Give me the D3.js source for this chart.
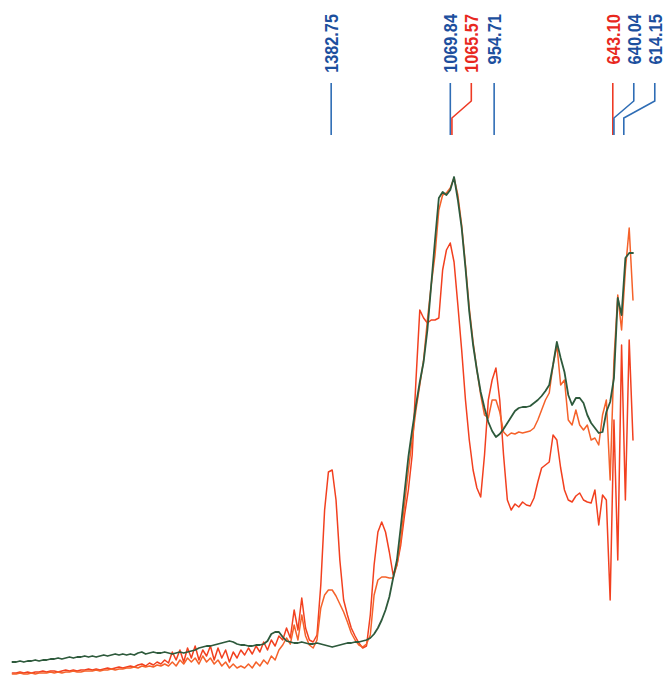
<!DOCTYPE html>
<html>
<head>
<meta charset="utf-8">
<script src="https://cdn.jsdelivr.net/npm/d3@7"></script>
<style>
  html, body { margin: 0; padding: 0; background: #ffffff; }
  svg { display: block; }
</style>
</head>
<body>
<div id="chart"></div>
<script>
// Wavenumber grid (cm-1), descending left to right
const wavenumbers = [
  2220,2210,2200,2190,2180,2170,2160,2150,2140,2130,2120,2110,2100,2090,2080,2070,2060,2050,2040,2030,
  2020,2010,2000,1990,1980,1970,1960,1950,1940,1930,1920,1910,1900,1890,1880,1870,1860,1850,1840,1830,
  1820,1810,1800,1790,1780,1770,1760,1750,1740,1730,1720,1710,1700,1690,1680,1670,1660,1650,1640,1630,
  1620,1610,1600,1590,1580,1570,1560,1550,1540,1530,1520,1510,1500,1490,1480,1470,1460,1450,1440,1430,
  1420,1410,1400,1390,1380,1370,1360,1350,1340,1330,1320,1310,1300,1290,1280,1270,1260,1250,1240,1230,
  1220,1210,1200,1190,1180,1170,1160,1150,1140,1130,1120,1110,1100,1090,1080,1070,1060,1050,1040,1030,
  1020,1010,1000,990,980,970,960,950,940,930,920,910,900,890,880,870,860,850,840,830,
  820,810,800,790,780,770,760,750,740,730,720,710,700,690,680,670,660,650,640,630,
  620,610,600,590
];

// Absorbance (arbitrary units) of the dark green spectrum
const spectrumGreen = [
  14,14,15,14,15,15,16,15,16,16,17,
  17,18,17,18,19,18,19,19,20,19,
  20,19,20,21,20,21,22,21,22,21,22,
  21,23,24,22,23,24,23,23,24,
  23,22,23,24,23,24,25,26,28,29,
  30,30,31,32,33,34,35,34,32,31,
  31,30,30,31,31,32,35,42,44,44,
  39,35,34,33,33,34,33,32,32,33,
  32,31,30,29,30,31,32,33,33,34,
  34,35,36,38,42,48,56,66,79,98,
  116,149,184,219,246,271,294,314,346,391,
  436,478,484,481,486,499,476,448,408,364,
  331,306,284,268,254,245,239,242,247,253,
  259,265,268,269,269,270,273,276,280,285,
  291,311,334,318,304,281,271,278,278,273,
  261,253,248,243,244,264,274,298,378,361,
  418,423,423
];

// Absorbance of the orange spectrum following the green one
const spectrumOrangeA = [
  2,2,3,2,2,3,2,3,3,3,4,
  3,4,3,4,4,5,4,4,5,5,
  5,6,5,6,6,7,6,7,7,8,
  8,9,8,10,9,10,9,11,10,12,
  10,14,10,16,12,18,14,18,12,20,14,18,12,16,10,14,8,12,8,10,
  8,12,8,14,10,16,12,20,16,26,
  31,38,32,51,36,61,40,31,28,36,
  68,81,86,86,80,72,64,54,43,36,31,29,32,41,81,96,99,99,98,98,
  111,136,171,206,236,266,291,316,356,391,
  421,466,481,483,488,498,481,451,411,368,
  334,306,281,261,258,276,276,264,244,240,
  243,242,244,243,244,245,248,256,266,276,
  283,311,331,291,296,256,251,266,251,246,
  251,236,238,231,261,276,196,316,381,346,
  406,448,376
];

// Absorbance of the orange spectrum with the sharp 1382 / 954 bands
const spectrumOrangeB = [
  3,3,4,3,4,3,4,4,5,4,5,
  5,4,5,6,5,6,5,6,6,7,
  6,7,6,7,8,7,8,9,8,9,
  10,9,11,12,10,13,11,14,12,16,
  13,24,16,26,14,28,18,30,16,26,20,30,16,28,18,26,14,24,18,26,
  21,28,22,30,24,34,26,36,30,40,
  36,48,38,66,46,78,48,36,34,41,
  91,166,204,206,176,116,76,61,48,40,33,28,30,61,111,144,154,144,124,101,
  111,131,161,186,221,296,366,358,353,356,
  356,358,406,426,433,414,371,326,276,236,
  206,188,179,221,276,296,308,276,221,176,
  166,172,169,174,171,170,178,194,208,211,
  214,241,236,208,186,176,174,180,183,176,
  174,173,186,151,181,176,76,256,116,331,
  176,336,236
];

// Peak labels
const peakLabels = ["1382.75","1069.84","1065.57","954.71","643.10","640.04","614.15"];
const peakValues = [1382.75, 1069.84, 1065.57, 954.71, 643.10, 640.04, 614.15];
const peakSource = ["green","green","orange","green","orange","green","green"];

const W = 666, H = 676;
const svg = d3.select("#chart").append("svg")
  .attr("width", W).attr("height", H)
  .attr("viewBox", `0 0 ${W} ${H}`);

svg.append("rect").attr("width", W).attr("height", H).attr("fill", "#ffffff");

const x = d3.scaleLinear().domain([2225, 590]).range([10.5, 633]);
const y = d3.scaleLinear().domain([0, 500]).range([676, 176]);

const line = d3.line()
  .x(d => x(d[0]))
  .y(d => y(d[1]));

function pairs(values) { return wavenumbers.map((w, i) => [w, values[i]]); }

const series = [
  { vals: spectrumOrangeB, color: "#f2401f", width: 1.5 },
  { vals: spectrumOrangeA, color: "#f5622a", width: 1.5 },
  { vals: spectrumGreen,   color: "#2e5a3c", width: 1.8 }
];

svg.append("g").selectAll("path").data(series).join("path")
  .attr("d", d => line(pairs(d.vals)))
  .attr("fill", "none")
  .attr("stroke", d => d.color)
  .attr("stroke-width", d => d.width)
  .attr("stroke-linejoin", "round")
  .attr("stroke-linecap", "round");

// Peak annotations with collision avoidance
const peaks = peakValues.map((v, i) => ({ v, label: peakLabels[i], src: peakSource[i], px: x(v) }))
  .sort((a, b) => a.px - b.px);
let prev = -Infinity;
peaks.forEach(p => { p.lx = Math.max(p.px, prev + 21); prev = p.lx; });

const textColor = { green: "#1c4f9e", orange: "#e8281e" };
const lineColor = { green: "#2f6db5", orange: "#ee3a24" };

const yTop = 83, yBendA = 101, yBendB = 118, yBot = 135;
const ann = svg.append("g");
ann.selectAll("path").data(peaks).join("path")
  .attr("d", p => `M${p.lx},${yTop}L${p.lx},${yBendA}L${p.px},${yBendB}L${p.px},${yBot}`)
  .attr("fill", "none")
  .attr("stroke", p => lineColor[p.src])
  .attr("stroke-width", 1.6);

const labels = ann.selectAll("text").data(peaks).join("text")
  .attr("text-anchor", "start")
  .attr("font-family", "'Liberation Sans', Arial, sans-serif")
  .attr("font-weight", "bold")
  .attr("font-size", 19)
  .attr("fill", p => textColor[p.src])
  .text(p => p.label);

// condense the glyphs along the reading direction so each label spans ~8.4px per character
labels.each(function(p) {
  const natural = this.getComputedTextLength();
  const target = p.label.length * 8.4;
  const s = target / natural;
  d3.select(this).attr("transform",
    `translate(${p.lx + 7},${14 + target}) rotate(-90) scale(${s},1)`);
});
</script>
</body>
</html>
